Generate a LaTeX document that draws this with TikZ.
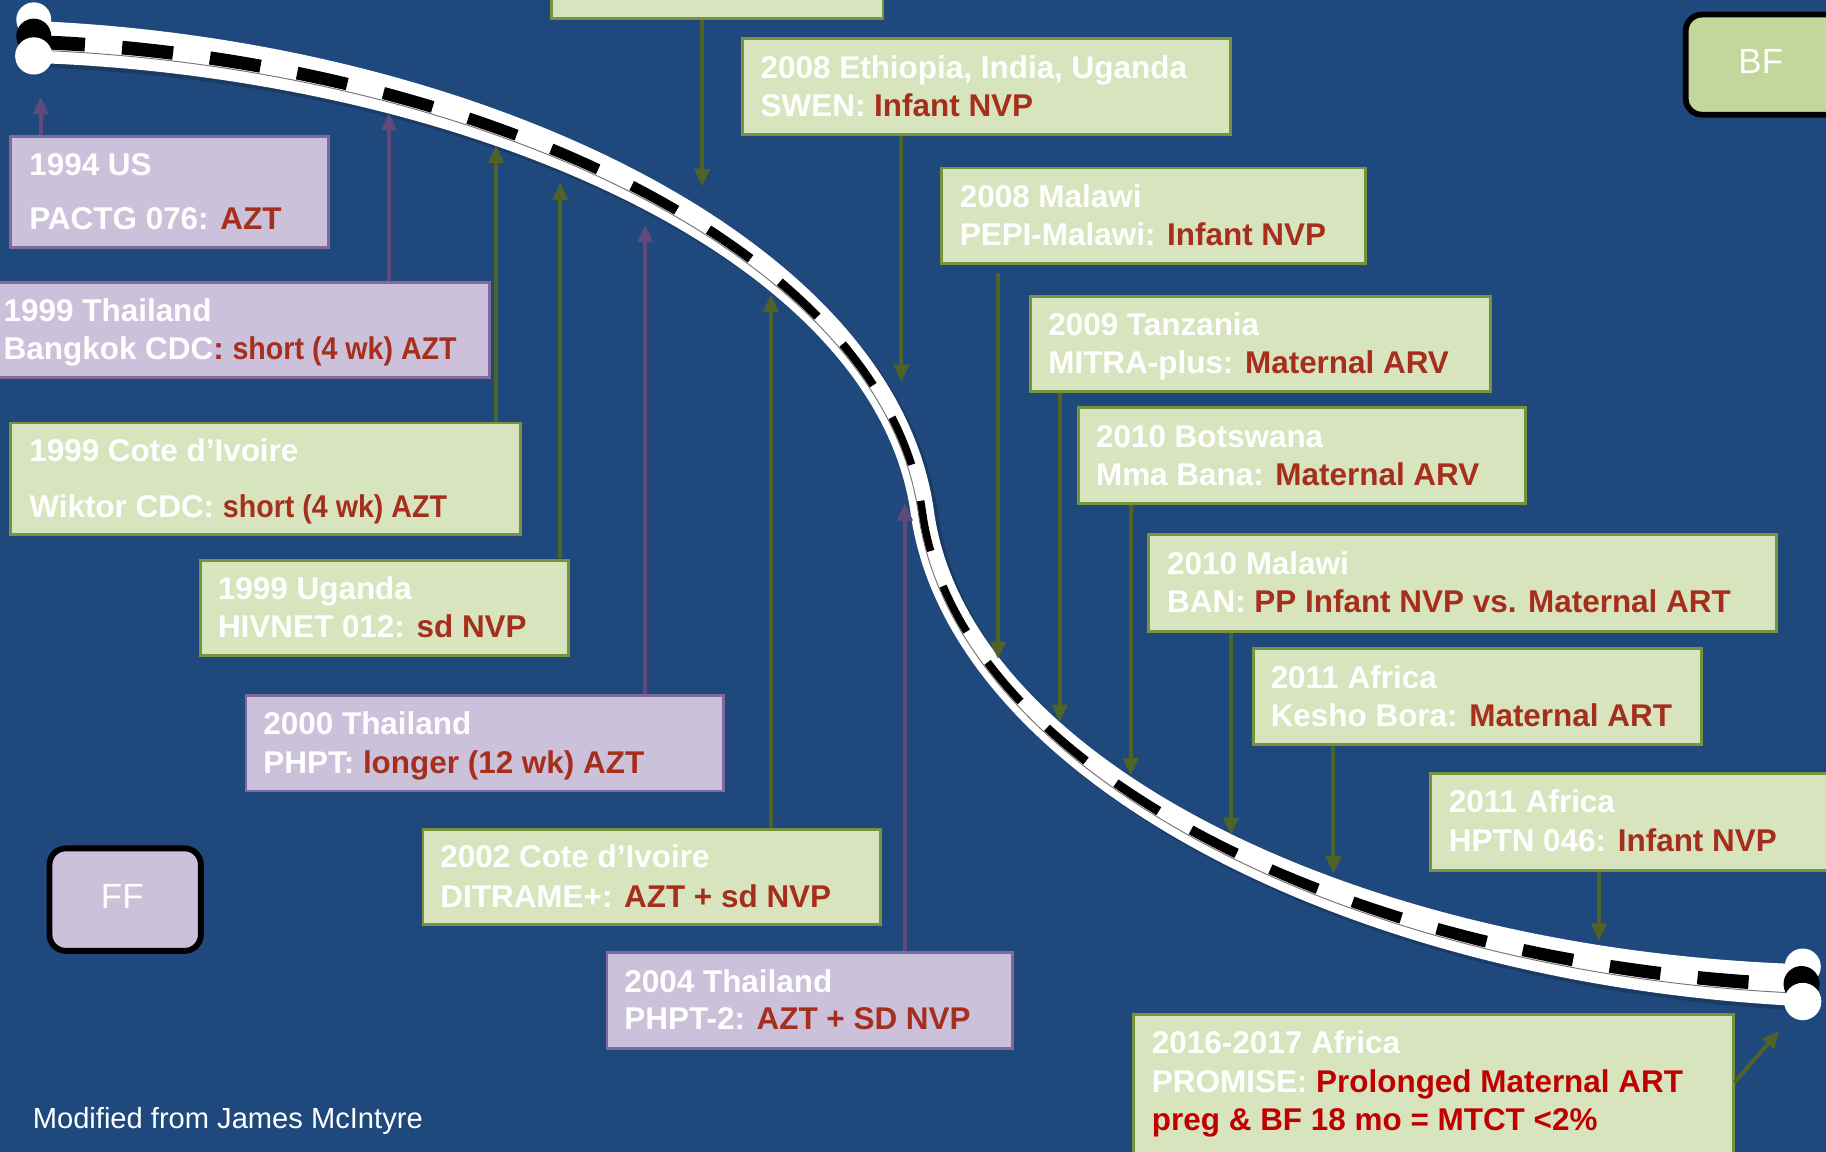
\documentclass[tikz,border=0pt]{standalone}
\usepackage{fontspec}
\setmainfont{Liberation Sans}
\newfontfamily\narrowfont[FakeStretch=0.91]{Liberation Sans}
\usetikzlibrary{arrows.meta}
\definecolor{bgblue}{HTML}{1F497D}
\definecolor{pfill}{HTML}{CCC1DA}
\definecolor{pline}{HTML}{7E6A9E}
\definecolor{parrow}{HTML}{604A7B}
\definecolor{gfill}{HTML}{D7E4BD}
\definecolor{gline}{HTML}{77933C}
\definecolor{garrow}{HTML}{4F6228}
\definecolor{tred}{HTML}{A52F1C}
\definecolor{bred}{HTML}{C00000}
\definecolor{bffill}{HTML}{C3D69B}
\begin{document}
\begin{tikzpicture}[x=1pt,y=-1pt,
  gbox/.style={draw=gline, fill=gfill, line width=2.5pt, inner sep=0pt, anchor=north west},
  pbox/.style={draw=pline, fill=pfill, line width=2.5pt, inner sep=0pt, anchor=north west},
  rbox/.style={draw=black, line width=5pt, rounded corners=14pt, inner sep=0pt, anchor=north west},
  lbl/.style={text=white, font=\fontsize{27}{33}\selectfont\bfseries, inner sep=0pt, anchor=base west},
  big/.style={text=white, font=\fontsize{30}{36}\selectfont, inner sep=0pt},
  garr/.style={draw=garrow, line width=3.5pt, -{Triangle[width=13pt,length=15pt]}},
  parr/.style={draw=parrow, line width=3.5pt, -{Triangle[width=13pt,length=15pt]}},
  stripe/.style={draw=black, line width=16pt, dash pattern=on 44pt off 32pt},
  edgeline/.style={draw=black!55, line width=0.8pt}
]
\useasboundingbox (0,0) rectangle (1568,989);
\clip (0,0) rectangle (1568,989);
\fill[bgblue] (0,0) rectangle (1568,989);

% ---- timeline band (tapered ribbon) ----
\coordinate (cA) at (29,36);
\coordinate (cM) at (792,440);
\coordinate (cB) at (1548,846);
\fill[black, opacity=0.18] (33,22) .. controls (408,37.5) and (773,205) .. (806,443)
   .. controls (835,651) and (1158,819) .. (1552,832)
   -- (1552,868) .. controls (1150,849) and (817,667) .. (786,445)
   .. controls (755,223) and (400,70.5) .. (33,58) -- cycle;
\fill[white] (29,18) .. controls (404,33.5) and (769,201) .. (802,439)
   .. controls (831,647) and (1154,815) .. (1548,828)
   -- (1548,864) .. controls (1146,845) and (813,663) .. (782,441)
   .. controls (751,219) and (396,66.5) .. (29,54) -- cycle;
\begin{scope}
  \clip (29,30) .. controls (401.3,44.5) and (763,207) .. (795.3,439.7)
   .. controls (825,652.3) and (1151.3,825) .. (1548,840)
   -- (1548,852) .. controls (1148.7,835) and (819,657.7) .. (788.7,440.3)
   .. controls (757,213) and (398.7,55.5) .. (29,42) -- cycle;
  \path[stripe] (cA) .. controls (400,50) and (760,210) .. (cM) .. controls (822,655) and (1150,830) .. (cB);
\end{scope}
\path[edgeline] (29,43) .. controls (398.7,56.5) and (757,214) .. (788.7,441.3)
   .. controls (819,658.7) and (1148.7,836) .. (1548,853);
\fill[white] (29,17) circle (15pt);
\fill[black] (29,31) circle (15pt);
\fill[white] (29,48) circle (16pt);
\fill[white] (1548,830) circle (15.5pt);
\fill[black] (1547,845) circle (15.5pt);
\fill[white] (1548,860) circle (16pt);

% ---- boxes ----
\node[gbox, minimum width=285, minimum height=25] (b0) at (472,-10) {};
\node[pbox, minimum width=273, minimum height=95] (b1) at (8,116) {};
\node[pbox, minimum width=424, minimum height=82] (b2) at (-5,241) {};
\node[gbox, minimum width=438, minimum height=96] (b3) at (8,362) {};
\node[gbox, minimum width=316, minimum height=82] (b4) at (171,480) {};
\node[pbox, minimum width=410, minimum height=82] (b5) at (210,596) {};
\node[gbox, minimum width=393, minimum height=82] (b6) at (362,711) {};
\node[pbox, minimum width=348, minimum height=82] (b7) at (520,817) {};
\node[gbox, minimum width=419, minimum height=82] (b8) at (636,32) {};
\node[gbox, minimum width=364, minimum height=82] (b9) at (807,143) {};
\node[gbox, minimum width=395, minimum height=82] (b10) at (884,253) {};
\node[gbox, minimum width=384, minimum height=82] (b11) at (925,349) {};
\node[gbox, minimum width=539, minimum height=83] (b12) at (985,458) {};
\node[gbox, minimum width=385, minimum height=82] (b13) at (1075,556) {};
\node[gbox, minimum width=360, minimum height=83] (b14) at (1227,663) {};
\node[gbox, minimum width=515, minimum height=130] (b15) at (972,870) {};
\node[rbox, fill=bffill, minimum width=150, minimum height=86] (bf) at (1445,10) {};
\node[rbox, fill=pfill, minimum width=130, minimum height=88] (ff) at (40,726) {};

% ---- texts ----
\node[lbl] (t1a) at (25,151) {1994 US};
\node[lbl] (t1b) at (25,197) {PACTG 076: \textcolor{tred}{AZT}};
\node[lbl] (t2a) at (3,276) {1999 Thailand};
\node[lbl] (t2b) at (3,309) {Bangkok CDC\textcolor{tred}{: {\narrowfont\bfseries short (4 wk) AZT}}};
\node[lbl] (t3a) at (25,396) {1999 Cote d’Ivoire};
\node[lbl] (t3b) at (25,444) {Wiktor CDC: \textcolor{tred}{\narrowfont\bfseries short (4 wk) AZT}};
\node[lbl] (t4a) at (187,515) {1999 Uganda};
\node[lbl] (t4b) at (187,547) {HIVNET 012: \textcolor{tred}{sd NVP}};
\node[lbl] (t5a) at (226,631) {2000 Thailand};
\node[lbl] (t5b) at (226,664) {PHPT: \textcolor{tred}{longer (12 wk) AZT}};
\node[lbl] (t6a) at (378,745) {2002 Cote d’Ivoire};
\node[lbl] (t6b) at (378,779) {DITRAME+: \textcolor{tred}{AZT + sd NVP}};
\node[lbl] (t7a) at (536,852) {2004 Thailand};
\node[lbl] (t7b) at (536,884) {PHPT-2: \textcolor{tred}{AZT + SD NVP}};
\node[lbl] (t8a) at (653,67) {2008 Ethiopia, India, Uganda};
\node[lbl] (t8b) at (653,100) {SWEN: \textcolor{tred}{Infant NVP}};
\node[lbl] (t9a) at (824,178) {2008 Malawi};
\node[lbl] (t9b) at (824,211) {PEPI-Malawi: \textcolor{tred}{Infant NVP}};
\node[lbl] (t10a) at (900,288) {2009 Tanzania};
\node[lbl] (t10b) at (900,321) {MITRA-plus: \textcolor{tred}{Maternal ARV}};
\node[lbl] (t11a) at (941,384) {2010 Botswana};
\node[lbl] (t11b) at (941,417) {Mma Bana: \textcolor{tred}{Maternal ARV}};
\node[lbl] (t12a) at (1002,493) {2010 Malawi};
\node[lbl] (t12b) at (1002,526) {BAN: \textcolor{tred}{PP Infant NVP vs. Maternal ART}};
\node[lbl] (t13a) at (1091,591) {2011 Africa};
\node[lbl] (t13b) at (1091,624) {Kesho Bora: \textcolor{tred}{Maternal ART}};
\node[lbl] (t14a) at (1244,698) {2011 Africa};
\node[lbl] (t14b) at (1244,731) {HPTN 046: \textcolor{tred}{Infant NVP}};
\node[lbl] (t15a) at (989,905) {2016-2017 Africa};
\node[lbl] (t15b) at (989,938) {PROMISE: \textcolor{bred}{Prolonged Maternal ART}};
\node[lbl, text=bred] (t15c) at (989,971) {preg \& BF 18 mo = MTCT <2\%};
\node[big] (tbf) at (1512,53) {BF};
\node[big] (tff) at (105,770) {FF};
\node[text=white, font=\fontsize{25}{30}\selectfont, inner sep=0pt, anchor=base west] (src) at (28,969) {Modified from James McIntyre};

% ---- connectors ----
\coordinate (e0) at (603,160);
\coordinate (e1) at (35,83);
\coordinate (e2) at (334,97);
\coordinate (e3) at (426,125);
\coordinate (e4) at (481,157);
\coordinate (e5) at (554,193);
\coordinate (e6) at (662,253);
\coordinate (e7) at (777,432);
\coordinate (e8) at (774,328);
\coordinate (e9) at (857,566);
\coordinate (e10) at (910,620);
\coordinate (e11) at (971,666);
\coordinate (e12) at (1057,717);
\coordinate (e13) at (1145,750);
\coordinate (e14) at (1373,808);
\coordinate (e15) at (1528,885);
\draw[garr] (b0.south -| e0) -- (e0);
\draw[parr] (b1.north -| e1) -- (e1);
\draw[parr] (b2.north -| e2) -- (e2);
\draw[garr] (b3.north -| e3) -- (e3);
\draw[garr] (b4.north -| e4) -- (e4);
\draw[parr] (b5.north -| e5) -- (e5);
\draw[garr] (b6.north -| e6) -- (e6);
\draw[parr] (b7.north -| e7) -- (e7);
\draw[garr] (b8.south -| e8) -- (e8);
\draw[garr] ([yshift=-7pt]b9.south -| e9) -- (e9);
\draw[garr] (b10.south -| e10) -- (e10);
\draw[garr] (b11.south -| e11) -- (e11);
\draw[garr] (b12.south -| e12) -- (e12);
\draw[garr] (b13.south -| e13) -- (e13);
\draw[garr] (b14.south -| e14) -- (e14);
\draw[garr] ([yshift=7pt]b15.east) -- (e15);
\end{tikzpicture}
\end{document}
